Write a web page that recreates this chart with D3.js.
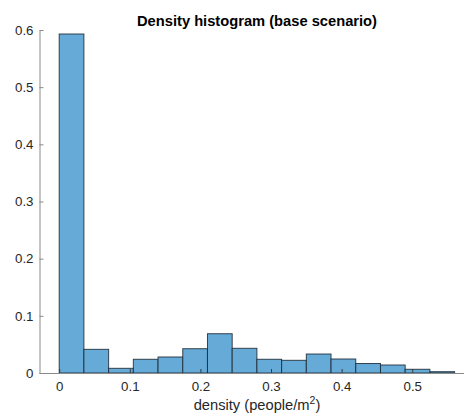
<!DOCTYPE html>
<html>
<head>
<meta charset="utf-8">
<script src="https://cdn.jsdelivr.net/npm/d3@7"></script>
<style>
  html, body { margin: 0; padding: 0; background: #fff; }
  svg { display: block; font-family: "Liberation Sans", Arial, Helvetica, sans-serif; }
</style>
</head>
<body>
<svg id="chart" width="464" height="417"></svg>
<script>
// Histogram of crowd density, 16 bins of width 0.035 people/m^2 (probability normalization)
const binEdges = [0, 0.035, 0.07, 0.105, 0.14, 0.175, 0.21, 0.245, 0.28, 0.315, 0.35, 0.385, 0.42, 0.455, 0.49, 0.525, 0.56];
const binValues = [0.593, 0.0414, 0.0082, 0.024, 0.028, 0.0425, 0.0687, 0.0432, 0.024, 0.0222, 0.0332, 0.0245, 0.0166, 0.014, 0.0065, 0.0023];
const xTicks = [0, 0.1, 0.2, 0.3, 0.4, 0.5];
const yTicks = [0, 0.1, 0.2, 0.3, 0.4, 0.5, 0.6];
const titleText = "Density histogram (base scenario)";

const svg = d3.select("#chart");
const plotLeft = 39.5, plotRight = 464, plotTop = 30, plotBottom = 373;

const x = d3.scaleLinear().domain([-0.0279, 0.5733]).range([plotLeft, plotRight]);
const y = d3.scaleLinear().domain([0, 0.6]).range([plotBottom, plotTop]);

const bins = binValues.map((v, i) => ({ x0: binEdges[i], x1: binEdges[i + 1], v }));

// bars
svg.append("g")
  .selectAll("rect")
  .data(bins)
  .join("rect")
  .attr("x", d => x(d.x0))
  .attr("y", d => y(d.v))
  .attr("width", d => x(d.x1) - x(d.x0))
  .attr("height", d => y(0) - y(d.v))
  .attr("fill", "#66aad7")
  .attr("stroke", "#1c2833")
  .attr("stroke-opacity", 0.85)
  .attr("stroke-width", 1);

const axisColor = "#8a8a8a";
const textColor = "#262626";
const tickFont = 13.3, labelFont = 14.7;

// x axis (ticks point inward)
const gx = svg.append("g")
  .attr("transform", `translate(0,${plotBottom})`)
  .call(d3.axisBottom(x).tickValues(xTicks).tickSizeInner(-4).tickSizeOuter(0).tickPadding(8.5)
    .tickFormat(d => d === 0 ? "0" : d3.format(".1f")(d)));
gx.select(".domain").attr("stroke", axisColor).attr("d", `M${plotLeft},0.5H${plotRight}`);
gx.selectAll(".tick line").attr("stroke", "#3a3a3a");
gx.selectAll(".tick text").attr("fill", textColor).attr("font-size", tickFont).attr("font-family", null);

// y axis (ticks point inward)
const gy = svg.append("g")
  .attr("transform", `translate(${plotLeft},0)`)
  .call(d3.axisLeft(y).tickValues(yTicks).tickSizeInner(-4).tickSizeOuter(0).tickPadding(6)
    .tickFormat(d => d === 0 ? "0" : d3.format(".1f")(d)));
gy.select(".domain").attr("stroke", axisColor);
gy.selectAll(".tick line").attr("stroke", axisColor);
gy.selectAll(".tick text").attr("fill", textColor).attr("font-size", tickFont).attr("font-family", null);

// title
svg.append("text")
  .attr("x", 257).attr("y", 26)
  .attr("text-anchor", "middle")
  .attr("font-size", labelFont).attr("font-weight", "bold")
  .attr("fill", "#000")
  .text(titleText);

// x label with superscript
const xl = svg.append("text")
  .attr("x", 257).attr("y", 409.5)
  .attr("text-anchor", "middle")
  .attr("font-size", labelFont)
  .attr("fill", textColor);
xl.append("tspan").text("density (people/m");
xl.append("tspan").attr("dy", -6).attr("font-size", 10.5).text("2");
xl.append("tspan").attr("dy", 6).text(")");
</script>
</body>
</html>
